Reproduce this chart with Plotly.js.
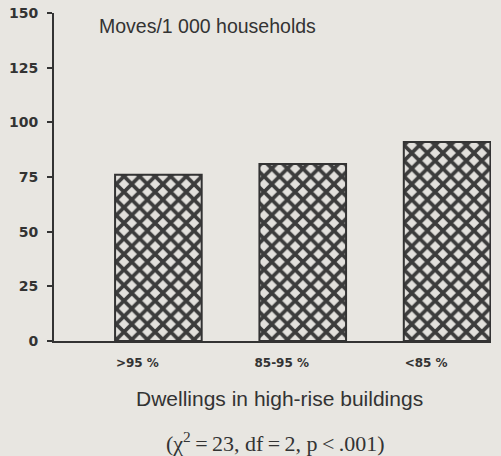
<!DOCTYPE html>
<html>
<head>
<meta charset="utf-8">
<script src="https://cdn.plot.ly/plotly-3.0.1.min.js"></script>
<style>
  html, body { margin: 0; padding: 0; background: #e8e6e1; }
  #chart { width: 501px; height: 456px; }
</style>
</head>
<body>
<div id="chart"></div>
<script>
// Share of dwellings in high-rise buildings (categories) and moving rate
const categories = ['>95 %', '85-95 %', '<85 %'];
const movesPer1000 = [76, 81, 91];
const yTicks = [0, 25, 50, 75, 100, 125, 150];

const paper = '#e8e6e1';
const ink = '#333333';
const textInk = '#333333';

const trace = {
  type: 'bar',
  x: categories,
  y: movesPer1000,
  width: 0.6,
  marker: {
    color: paper,
    line: { color: ink, width: 2 },
    pattern: { shape: 'x', size: 11, solidity: 0.55, fgcolor: '#3c3c3c', bgcolor: '#e2e0dc', fillmode: 'replace' }
  },
  hoverinfo: 'skip'
};

const layout = {
  width: 501,
  height: 456,
  margin: { l: 54, r: 10, t: 13, b: 115, pad: 0 },
  paper_bgcolor: paper,
  plot_bgcolor: paper,
  showlegend: false,
  xaxis: {
    type: 'category',
    range: [-0.723, 2.304],
    showline: true,
    linewidth: 2,
    linecolor: ink,
    ticks: '',
    showgrid: false,
    zeroline: false,
    tickfont: { family: 'DejaVu Sans', size: 12, color: textInk, weight: 'bold' },
    ticklabelshift: -21,
    ticklabelstandoff: 10,
    fixedrange: true
  },
  yaxis: {
    range: [0, 150],
    tickvals: yTicks,
    ticktext: yTicks.map(String),
    showline: true,
    linewidth: 2,
    linecolor: ink,
    ticks: 'outside',
    ticklen: 5,
    tickwidth: 2,
    tickcolor: ink,
    showgrid: false,
    zeroline: false,
    tickfont: { family: 'DejaVu Sans', size: 14, color: textInk, weight: 'bold' },
    ticklabelstandoff: 6,
    fixedrange: true
  },
  annotations: [
    {
      text: 'Moves/1 000 households',
      xref: 'paper', yref: 'paper', x: 0.098, y: 0.960,
      xanchor: 'left', yanchor: 'middle', showarrow: false,
      font: { family: 'Liberation Sans', size: 19.5, color: textInk }
    },
    {
      text: 'Dwellings in high-rise buildings',
      xref: 'paper', yref: 'paper', x: 0.515, y: -0.174,
      xanchor: 'center', yanchor: 'middle', showarrow: false,
      font: { family: 'Liberation Sans', size: 21, color: textInk }
    },
    {
      text: '(\u03c7<sup>2</sup>\u2009=\u200923, df\u2009=\u20092, p\u2009&lt;\u2009.001)',
      xref: 'paper', yref: 'paper', x: 0.506, y: -0.308,
      xanchor: 'center', yanchor: 'middle', showarrow: false,
      font: { family: 'Liberation Serif', size: 22, color: textInk }
    }
  ]
};

Plotly.newPlot('chart', [trace], layout, { staticPlot: true, displayModeBar: false });
</script>
</body>
</html>
